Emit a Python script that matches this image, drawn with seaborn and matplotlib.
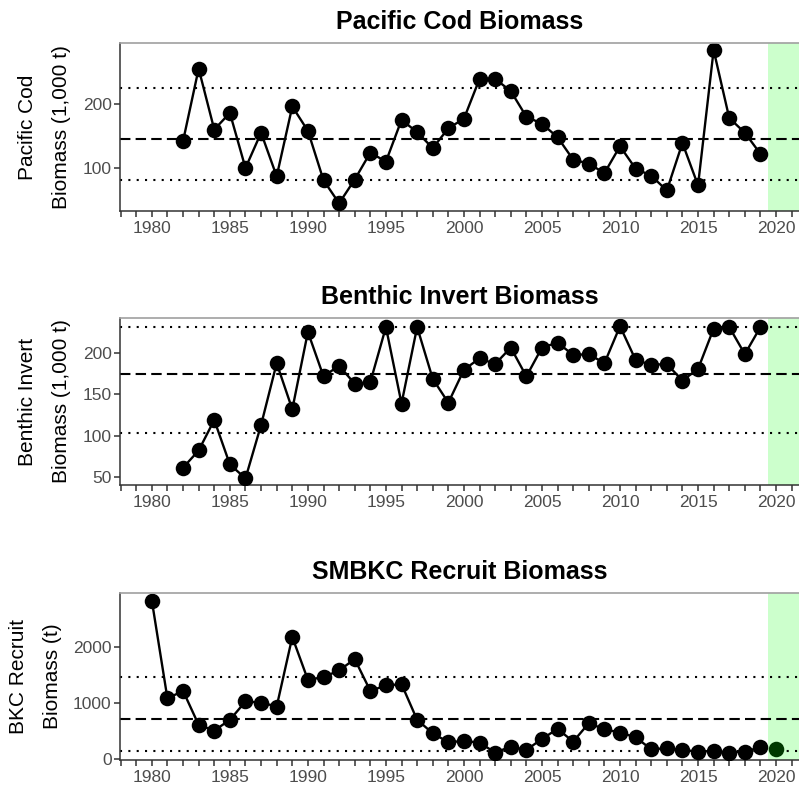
import numpy as np
import pandas as pd
import matplotlib
matplotlib.use("Agg")
import matplotlib.pyplot as plt
import seaborn as sns
from matplotlib.ticker import MultipleLocator

# ----------------------------------
# Data
# ----------------------------------
cod_years = list(range(1982, 2020))
cod_values = [142, 255, 160, 186, 100, 155, 87, 196, 158, 81,
              45, 82, 124, 110, 175, 156, 131, 162, 177, 239,
              239, 220, 180, 169, 148, 113, 107, 92, 134, 99,
              88, 65, 139, 73, 284, 178, 155, 122]
cod_mean, cod_hi, cod_lo = 145, 225, 81

inv_years = list(range(1982, 2020))
inv_values = [61, 82, 119, 65, 48, 113, 188, 132, 226, 172,
              185, 163, 165, 232, 139, 232, 169, 140, 180, 194,
              187, 207, 172, 207, 213, 198, 199, 188, 233, 192,
              186, 187, 167, 181, 230, 232, 199, 232]
inv_mean, inv_hi, inv_lo = 174.5, 231.6, 103.5

bkc_years = list(range(1980, 2020))
bkc_values = [2832, 1078, 1215, 605, 503, 695, 1024, 1006, 934, 2180,
              1413, 1461, 1581, 1784, 1215, 1311, 1335, 695, 455, 293,
              317, 287, 108, 216, 156, 353, 533, 305, 635, 527,
              467, 383, 168, 186, 156, 126, 138, 108, 126, 204]
bkc_new_year = [2020]
bkc_new_value = [168]
bkc_mean, bkc_hi, bkc_lo = 712, 1461, 138

panels = [
    dict(title="Pacific Cod Biomass", ylabel="Pacific Cod\nBiomass (1,000 t)",
         years=cod_years, values=cod_values, mean=cod_mean, hi=cod_hi, lo=cod_lo,
         ylim=(33, 295), yticks=[100, 200]),
    dict(title="Benthic Invert Biomass", ylabel="Benthic Invert\nBiomass (1,000 t)",
         years=inv_years, values=inv_values, mean=inv_mean, hi=inv_hi, lo=inv_lo,
         ylim=(40, 243), yticks=[50, 100, 150, 200]),
    dict(title="SMBKC Recruit Biomass", ylabel="BKC Recruit\nBiomass (t)",
         years=bkc_years, values=bkc_values, mean=bkc_mean, hi=bkc_hi, lo=bkc_lo,
         ylim=(-24, 2970), yticks=[0, 1000, 2000]),
]

# ----------------------------------
# Style
# ----------------------------------
sns.set_style("white")
plt.rcParams["font.family"] = ["Liberation Sans", "DejaVu Sans"]

fig = plt.figure(figsize=(7.99, 7.89), dpi=100)
positions = [
    [0.150, 0.7326, 0.850, 0.2129],
    [0.150, 0.3853, 0.850, 0.2117],
    [0.150, 0.0368, 0.850, 0.2117],
]

for i, (p, pos) in enumerate(zip(panels, positions)):
    ax = fig.add_axes(pos)
    df = pd.DataFrame({"Year": p["years"], "Value": p["values"]})

    # projection-year shading and reference lines
    ax.axvspan(2019.5, 2023, color="#ccffcc", zorder=0, lw=0)
    ax.axhline(p["mean"], color="black", lw=1.5, ls=(0, (5, 2.5)), zorder=1)
    ax.axhline(p["hi"], color="black", lw=1.5, ls=(0, (1, 3)), zorder=1)
    ax.axhline(p["lo"], color="black", lw=1.5, ls=(0, (1, 3)), zorder=1)

    sns.lineplot(data=df, x="Year", y="Value", ax=ax, color="black", lw=1.7, zorder=2)
    sns.scatterplot(data=df, x="Year", y="Value", ax=ax, color="black", s=125,
                    linewidth=0, zorder=3)
    if i == 2:
        new_df = pd.DataFrame({"Year": bkc_new_year, "Value": bkc_new_value})
        sns.scatterplot(data=new_df, x="Year", y="Value", ax=ax, color="#003800",
                        s=125, linewidth=0, zorder=3)

    ax.set_xlim(1977.95, 2021.47)
    ax.set_ylim(*p["ylim"])
    ax.set_yticks(p["yticks"])
    ax.xaxis.set_minor_locator(MultipleLocator(1))
    ax.set_xticks(range(1980, 2021, 5))
    ax.tick_params(axis="both", which="both", direction="out", length=4, width=1.1,
                   color="#333333", labelsize=12.5, labelcolor="#4d4d4d",
                   bottom=True, left=True)
    ax.tick_params(axis="y", pad=2)

    ax.set_title(p["title"], fontsize=18, fontweight="bold", pad=10, color="black")
    ax.set_xlabel("")
    ax.set_ylabel(p["ylabel"], fontsize=15, linespacing=2.0, labelpad=8, color="black")

    ax.spines["right"].set_visible(False)
    ax.spines["top"].set_color("#a0a0a0")
    ax.spines["top"].set_linewidth(1.2)
    ax.spines["top"].set_zorder(4)
    for side in ["left", "bottom"]:
        ax.spines[side].set_color("#333333")
        ax.spines[side].set_linewidth(1.1)

fig.savefig("out.png", dpi=100)
print("saved out.png")
